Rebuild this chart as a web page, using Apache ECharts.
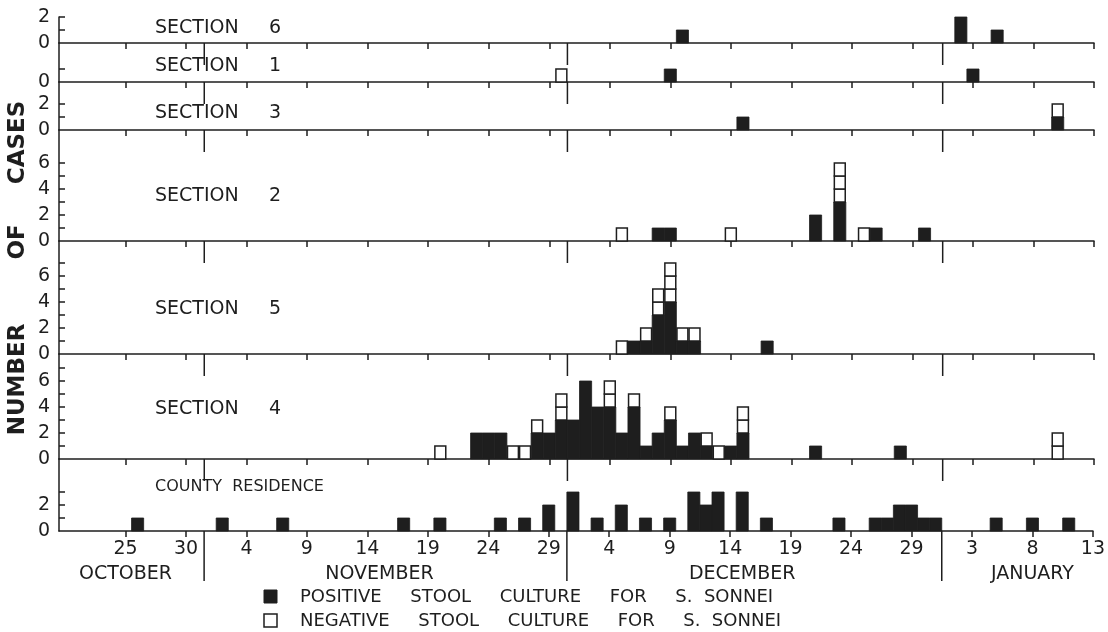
<!DOCTYPE html>
<html><head><meta charset="utf-8">
<script src="https://cdn.jsdelivr.net/npm/echarts@6/dist/echarts.min.js"></script>
<style>html,body{margin:0;padding:0;background:#ffffff;}#c{width:1108px;height:632px;}</style>
</head><body><div id="c"></div>
<script>
// ---------------- DATA: [date, positive cases, negative cases] ----------------
const section6 = [['Dec 10',1,0],['Jan 2',2,0],['Jan 5',1,0]];
const section1 = [['Nov 30',0,1],['Dec 9',1,0],['Jan 3',1,0]];
const section3 = [['Dec 15',1,0],['Jan 10',1,1]];
const section2 = [['Dec 5',0,1],['Dec 8',1,0],['Dec 9',1,0],['Dec 14',0,1],['Dec 21',2,0],['Dec 23',3,3],['Dec 25',0,1],['Dec 26',1,0],['Dec 30',1,0]];
const section5 = [['Dec 5',0,1],['Dec 6',1,0],['Dec 7',1,1],['Dec 8',3,2],['Dec 9',4,3],['Dec 10',1,1],['Dec 11',1,1],['Dec 17',1,0]];
const section4 = [['Nov 20',0,1],['Nov 23',2,0],['Nov 24',2,0],['Nov 25',2,0],['Nov 26',0,1],['Nov 27',0,1],['Nov 28',2,1],['Nov 29',2,0],['Nov 30',3,2],['Dec 1',3,0],['Dec 2',6,0],['Dec 3',4,0],['Dec 4',4,2],['Dec 5',2,0],['Dec 6',4,1],['Dec 7',1,0],['Dec 8',2,0],['Dec 9',3,1],['Dec 10',1,0],['Dec 11',2,0],['Dec 12',1,1],['Dec 13',0,1],['Dec 14',1,0],['Dec 15',2,2],['Dec 21',1,0],['Dec 28',1,0],['Jan 10',0,2]];
const countyResidence = [['Oct 26',1,0],['Nov 2',1,0],['Nov 7',1,0],['Nov 17',1,0],['Nov 20',1,0],['Nov 25',1,0],['Nov 27',1,0],['Nov 29',2,0],['Dec 1',3,0],['Dec 3',1,0],['Dec 5',2,0],['Dec 7',1,0],['Dec 9',1,0],['Dec 11',3,0],['Dec 12',2,0],['Dec 13',3,0],['Dec 15',3,0],['Dec 17',1,0],['Dec 23',1,0],['Dec 26',1,0],['Dec 27',1,0],['Dec 28',2,0],['Dec 29',2,0],['Dec 30',1,0],['Dec 31',1,0],['Jan 5',1,0],['Jan 8',1,0],['Jan 11',1,0]];

const panelTitles = ['SECTION     6','SECTION     1','SECTION     3','SECTION     2','SECTION     5','SECTION     4','COUNTY  RESIDENCE'];
const xTickDates = ['Oct 25','Oct 30','Nov 4','Nov 9','Nov 14','Nov 19','Nov 24','Nov 29','Dec 4','Dec 9','Dec 14','Dec 19','Dec 24','Dec 29','Jan 3','Jan 8','Jan 13'];
const xTickLabels = ['25','30','4','9','14','19','24','29','4','9','14','19','24','29','3','8','13'];
const monthNames = ['OCTOBER','NOVEMBER','DECEMBER','JANUARY'];
const monthLabelDates = ['Oct 25','Nov 15','Dec 15','Jan 8'];
const yLabelValues = [[0,2],[0],[0,2],[0,2,4,6],[0,2,4,6],[0,2,4,6],[0,2]];
const yTickValues = [[1,2],[1],[1,2],[1,2,3,4,5,6],[1,2,3,4,5,6,7],[1,2,3,4,5,6,7],[1,2,3]];
const legendLabels = ['POSITIVE     STOOL     CULTURE     FOR     S.  SONNEI','NEGATIVE     STOOL     CULTURE     FOR     S.  SONNEI'];
const yTitle = 'NUMBER        OF     CASES';

// ---------------- helpers ----------------
const monthStart = {Oct:0, Nov:31, Dec:61, Jan:92};
function dayNum(s){ const p = s.split(' '); return monthStart[p[0]] + Number(p[1]); }
const X_MIN = dayNum('Oct 20') - 0.5, X_MAX = dayNum('Jan 13');
const monthBoundaries = [monthStart.Nov+0.5, monthStart.Dec+0.5, monthStart.Jan+0.5];
const tickVals = xTickDates.map(dayNum);
const monthVals = monthLabelDates.map(dayNum);

// ---------------- layout ----------------
const UNIT = 13;
const INK = '#1e1e1e';
const FONT = 'DejaVu Sans';
const panelData = [section6, section1, section3, section2, section5, section4, countyResidence];
const layout = [
  {top:17, base:43, titleY:28},
  {top:43, base:82, titleY:66},
  {top:82, base:130, titleY:113},
  {top:130, base:241, titleY:196},
  {top:241, base:354, titleY:309},
  {top:354, base:459, titleY:409},
  {top:459, base:531, titleY:487}
];
const GL = 59, GR = 14;
const last = layout.length-1;

const grid = [], xAxis = [], yAxis = [], series = [];
layout.forEach((L,i)=>{
  grid.push({left:GL, right:GR, top:L.top, height:L.base-L.top});
  xAxis.push({
    gridIndex:i, type:'value', min:X_MIN, max:X_MAX,
    axisLine:{show:true, onZero:false, lineStyle:{color:INK, width:1.5}},
    axisTick:{show:true, customValues:tickVals, length:6, lineStyle:{color:INK, width:1.5}},
    axisLabel:{show:i===last, customValues:tickVals, margin:9, color:INK, fontSize:19, fontFamily:FONT,
      formatter:v=>{const k=tickVals.indexOf(v); return k>=0? xTickLabels[k]:'';}},
    splitLine:{show:false}
  });
  yAxis.push({
    gridIndex:i, type:'value', min:0, max:(L.base-L.top)/UNIT,
    axisLine:{show:true, lineStyle:{color:INK, width:1.5}},
    axisTick:{show:true, inside:true, length:6, customValues:yTickValues[i], lineStyle:{color:INK, width:1.5}},
    axisLabel:{show:true, customValues:yLabelValues[i], margin:9, color:INK, fontSize:19, fontFamily:FONT},
    splitLine:{show:false}
  });
  series.push({
    type:'custom', xAxisIndex:i, yAxisIndex:i, clip:false, silent:true,
    data: panelData[i].map(r=>[dayNum(r[0]), r[1], r[2]]),
    renderItem:(params, api)=>{
      const x = api.value(0), pos = api.value(1), neg = api.value(2);
      const b = api.coord([x,0]);
      const w = api.size([1,0])[0];
      const u = api.size([0,1])[1];
      const ch = [];
      if(pos>0) ch.push({type:'rect', shape:{x:b[0]-w/2, y:b[1]-pos*u, width:w, height:pos*u}, style:{fill:INK, stroke:INK, lineWidth:0.8}});
      for(let k=0;k<neg;k++) ch.push({type:'rect', shape:{x:b[0]-w/2+0.6, y:b[1]-(pos+k+1)*u, width:w-1.2, height:u}, style:{fill:'#ffffff', stroke:INK, lineWidth:1.5}});
      return {type:'group', children:ch};
    }
  });
  series.push({
    type:'custom', xAxisIndex:i, yAxisIndex:i, clip:false, silent:true,
    data: monthBoundaries.map(b=>[b]),
    renderItem:(params, api)=>{
      const p = api.coord([api.value(0),0]);
      const len = i===last ? 50 : 22;
      return {type:'line', shape:{x1:p[0], y1:p[1], x2:p[0], y2:p[1]+len}, style:{stroke:INK, lineWidth:1.5}};
    }
  });
});
// month names axis under bottom panel
xAxis.push({
  gridIndex:last, type:'value', min:X_MIN, max:X_MAX, position:'bottom', offset:0,
  axisLine:{show:false}, axisTick:{show:false}, splitLine:{show:false},
  axisLabel:{show:true, customValues:monthVals, margin:34, color:INK, fontSize:19, fontFamily:FONT,
    formatter:v=>{const k=monthVals.indexOf(v); return k>=0? monthNames[k]:'';}}
});

const graphic = [];
layout.forEach((L,i)=>{
  graphic.push({type:'text', x:155, y:L.titleY, silent:true,
    style:{text:panelTitles[i], fill:INK, font:(i===last?'16px ':'19px ')+FONT, textVerticalAlign:'middle', verticalAlign:'middle'}});
});
graphic.push({type:'text', x:18, y:268, rotation:Math.PI/2, silent:true,
  style:{text:yTitle, fill:INK, font:'bold 23px '+FONT, textAlign:'center', align:'center', textVerticalAlign:'middle', verticalAlign:'middle'}});
graphic.push({type:'rect', shape:{x:264, y:590, width:13, height:13}, style:{fill:INK, stroke:INK}});
graphic.push({type:'rect', shape:{x:264, y:614, width:13, height:13}, style:{fill:'#fff', stroke:INK, lineWidth:1.5}});
graphic.push({type:'text', x:300, y:597, style:{text:legendLabels[0], fill:INK, font:'18px '+FONT, textVerticalAlign:'middle', verticalAlign:'middle'}});
graphic.push({type:'text', x:300, y:621, style:{text:legendLabels[1], fill:INK, font:'18px '+FONT, textVerticalAlign:'middle', verticalAlign:'middle'}});

const chart = echarts.init(document.getElementById('c'));
chart.setOption({animation:false, backgroundColor:'#ffffff', grid, xAxis, yAxis, series, graphic});
</script></body></html>
